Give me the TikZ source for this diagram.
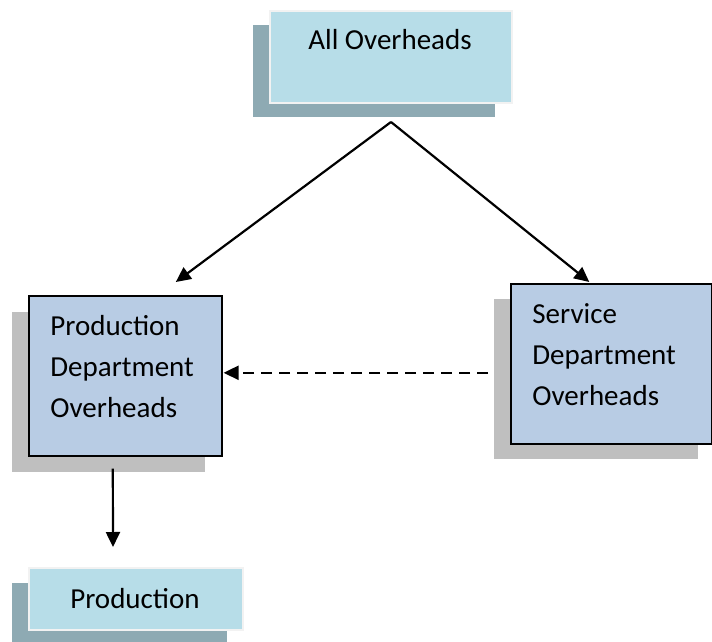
\documentclass[tikz,border=0pt]{standalone}
\usepackage{fontspec}
\setmainfont{Carlito}
\usetikzlibrary{arrows.meta, positioning, calc}

\definecolor{aquafill}{HTML}{B7DDE8}
\definecolor{aquashade}{HTML}{8EAAB3}
\definecolor{aquaedge}{HTML}{F2F2F2}
\definecolor{deptfill}{HTML}{B8CCE4}
\definecolor{deptshade}{HTML}{BFBFBF}

\tikzset{
  aquabox/.style={fill=aquafill, draw=aquaedge, line width=1pt, inner sep=0pt, anchor=north west},
  deptbox/.style={fill=deptfill, draw=black, line width=0.8pt, inner sep=0pt, anchor=north west},
  boxtext/.style={inner sep=0pt, align=left, font=\fontsize{14.5}{20.5}\selectfont},
  arr/.style={-{Triangle[length=7.5pt,width=7pt]}, line width=1.1pt},
}

\begin{document}
\begin{tikzpicture}[x=0.5pt,y=-0.5pt]
  \useasboundingbox (0,0) rectangle (712,642);

  % shadows
  \fill[aquashade] (253,25) rectangle (495,117);
  \fill[deptshade] (12,312) rectangle (205,472);
  \fill[deptshade] (494,299) rectangle (698,459);
  \fill[aquashade] (12,583) rectangle (227,642);

  % boxes
  \node[aquabox, minimum width=121pt, minimum height=46pt] (all) at (269,10) {};
  \node[deptbox, minimum width=96.5pt, minimum height=80pt] (pdo) at (28,295) {};
  \node[deptbox, minimum width=100.5pt, minimum height=80pt] (sdo) at (510,283) {};
  \node[aquabox, minimum width=107pt, minimum height=31pt] (prod) at (28,567) {};

  % texts (base = last line)
  \node[boxtext, anchor=base] (alltext) at (390,50) {All Overheads};
  \node[boxtext, anchor=base west] (pdotext) at (50,417) {Production\\Department\\Overheads};
  \node[boxtext, anchor=base west] (sdotext) at (532,405) {Service\\Department\\Overheads};
  \node[boxtext, anchor=base] (prodtext) at (135,608) {Production};

  % arrows
  \coordinate (apex) at ([yshift=-9pt]all.south);
  \draw[arr] (apex) -- ([xshift=25.25pt,yshift=6.5pt]pdo.north);
  \draw[arr] (apex) -- ([xshift=-11pt,yshift=0.5pt]sdo.north);
  \draw[arr, dash pattern=on 5.5pt off 3.5pt] ([xshift=-11pt,yshift=-4.5pt]sdo.west) -- ([xshift=0.5pt,yshift=1.5pt]pdo.east);
  \draw[arr] ([xshift=-6.25pt,yshift=-6pt]pdo.south) -- ([xshift=-11.5pt,yshift=10pt]prod.north);
\end{tikzpicture}
\end{document}
